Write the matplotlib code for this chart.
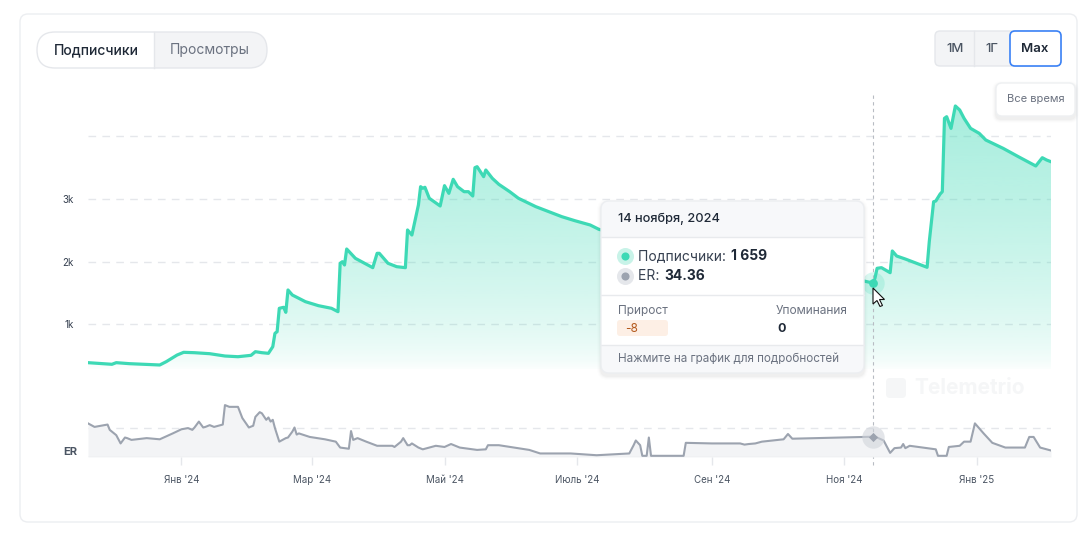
import matplotlib
matplotlib.use('Agg')
import matplotlib.pyplot as plt
import matplotlib.dates as mdates
from matplotlib.colors import to_rgb
from matplotlib.patches import FancyBboxPatch, Rectangle, Polygon
import numpy as np
import pandas as pd

plt.rcParams['font.family'] = ['Inter', 'DejaVu Sans']

W, H = 1088, 537

# subscribers (main chart)
sub_dates = ['2023-11-19', '2023-11-30', '2023-12-02', '2023-12-08', '2023-12-22', '2023-12-25',
             '2023-12-30', '2024-01-02', '2024-01-07', '2024-01-14', '2024-01-21', '2024-01-27',
             '2024-02-02', '2024-02-04', '2024-02-07', '2024-02-10', '2024-02-12', '2024-02-13',
             '2024-02-14', '2024-02-15', '2024-02-17', '2024-02-18', '2024-02-19', '2024-02-21',
             '2024-02-27', '2024-03-04', '2024-03-10', '2024-03-13', '2024-03-14', '2024-03-15',
             '2024-03-16', '2024-03-17', '2024-03-21', '2024-03-29', '2024-03-31', '2024-04-01',
             '2024-04-05', '2024-04-09', '2024-04-13', '2024-04-14', '2024-04-16', '2024-04-19',
             '2024-04-20', '2024-04-21', '2024-04-22', '2024-04-24', '2024-04-29', '2024-05-01',
             '2024-05-03', '2024-05-05', '2024-05-07', '2024-05-10', '2024-05-12', '2024-05-14',
             '2024-05-15', '2024-05-16', '2024-05-19', '2024-05-20', '2024-05-23', '2024-05-26',
             '2024-05-31', '2024-06-04', '2024-06-12', '2024-06-24', '2024-06-30', '2024-07-07',
             '2024-07-11', '2024-08-01', '2024-09-01', '2024-10-01', '2024-11-01', '2024-11-10',
             '2024-11-14', '2024-11-15', '2024-11-16', '2024-11-18', '2024-11-22', '2024-11-23',
             '2024-11-25', '2024-11-29', '2024-12-09', '2024-12-10', '2024-12-11', '2024-12-12',
             '2024-12-13', '2024-12-15', '2024-12-16', '2024-12-17', '2024-12-18', '2024-12-20',
             '2024-12-22', '2024-12-24', '2024-12-26', '2024-12-29', '2025-01-02', '2025-01-05',
             '2025-01-13', '2025-01-20', '2025-01-28', '2025-01-31', '2025-02-02', '2025-02-04']
sub_values = [388, 362, 388, 372, 351, 404,
              510, 553, 547, 531, 494, 483,
              505, 563, 547, 537, 643, 856,
              882, 1255, 1271, 1191, 1547, 1467,
              1361, 1297, 1255, 1201, 1973, 1998,
              1946, 2201, 2052, 1903, 2132, 2132,
              1973, 1919, 1903, 2504, 2424, 2903,
              3195, 3169, 3185, 3010, 2887, 3211,
              3089, 3312, 3195, 3115, 3115, 3046,
              3498, 3514, 3354, 3461, 3328, 3232,
              3115, 3010, 2876, 2716, 2652, 2584,
              2515, 2330, 2100, 1880, 1720, 1690,
              1659, 1733, 1893, 1903, 1823, 2169,
              2089, 2041, 1909, 2317, 2636, 2955,
              2966, 3078, 3115, 4285, 4311, 4125,
              4482, 4418, 4285, 4125, 4045, 3939,
              3806, 3673, 3525, 3657, 3620, 3593]

# ER (bottom strip)
er_dates = ['2023-11-19', '2023-11-22', '2023-11-25', '2023-11-28', '2023-11-29', '2023-12-02',
            '2023-12-04', '2023-12-06', '2023-12-07', '2023-12-09', '2023-12-16', '2023-12-22',
            '2023-12-28', '2024-01-01', '2024-01-04', '2024-01-06', '2024-01-07', '2024-01-09',
            '2024-01-11', '2024-01-12', '2024-01-14', '2024-01-16', '2024-01-20', '2024-01-21',
            '2024-01-23', '2024-01-27', '2024-01-29', '2024-02-01', '2024-02-03', '2024-02-04',
            '2024-02-06', '2024-02-07', '2024-02-09', '2024-02-10', '2024-02-11', '2024-02-12',
            '2024-02-13', '2024-02-15', '2024-02-18', '2024-02-19', '2024-02-21', '2024-02-22',
            '2024-02-23', '2024-02-24', '2024-02-29', '2024-03-07', '2024-03-12', '2024-03-14',
            '2024-03-18', '2024-03-19', '2024-03-20', '2024-03-22', '2024-03-26', '2024-03-31',
            '2024-04-07', '2024-04-08', '2024-04-11', '2024-04-12', '2024-04-14', '2024-04-15',
            '2024-04-16', '2024-04-19', '2024-04-21', '2024-04-27', '2024-05-01', '2024-05-04',
            '2024-05-08', '2024-05-16', '2024-05-20', '2024-05-21', '2024-05-26', '2024-06-02',
            '2024-06-09', '2024-06-14', '2024-06-19', '2024-06-28', '2024-07-10', '2024-07-25',
            '2024-07-27', '2024-07-28', '2024-07-30', '2024-07-31', '2024-08-02', '2024-08-03',
            '2024-08-04', '2024-08-19', '2024-08-20', '2024-09-01', '2024-09-14', '2024-09-16',
            '2024-09-18', '2024-09-21', '2024-09-24', '2024-10-04', '2024-10-06', '2024-10-08',
            '2024-11-14', '2024-11-16', '2024-11-19', '2024-11-22', '2024-11-24', '2024-11-27',
            '2024-11-28', '2024-11-29', '2024-12-01', '2024-12-07', '2024-12-13', '2024-12-14',
            '2024-12-18', '2024-12-19', '2024-12-24', '2024-12-26', '2024-12-29', '2024-12-31',
            '2025-01-04', '2025-01-08', '2025-01-14', '2025-01-23', '2025-01-25', '2025-01-27',
            '2025-01-30', '2025-02-04']
er_values = [57, 51, 53, 55, 46, 37,
             23, 33, 32, 29, 32, 30,
             40, 47, 49, 46, 50, 60,
             50, 51, 54, 51, 55, 88,
             85, 85, 66, 50, 53, 68,
             76, 74, 63, 67, 60, 63,
             49, 26, 32, 33, 43, 50,
             38, 40, 34, 30, 26, 16,
             14, 44, 29, 32, 26, 19,
             19, 17, 26, 32, 20, 20,
             23, 16, 13, 19, 17, 22,
             16, 12, 13, 20, 20, 16,
             12, 6, 6, 6, 3, 6,
             20, 28, 20, 2, 2, 33,
             2, 2, 24, 23, 23, 21,
             22, 23, 26, 30, 39, 31,
             34.36, 33, 28, 7, 15, 16,
             22, 15, 19, 16, 13, 2,
             2, 17, 19, 26, 26, 57,
             40, 24, 16, 16, 34, 34,
             16, 11]

tick_dates = ['2024-01-01', '2024-03-01', '2024-05-01', '2024-07-01',
              '2024-09-01', '2024-11-01', '2025-01-01']
tick_labels = ["Янв '24", "Мар '24", "Май '24", "Июль '24", "Сен '24", "Ноя '24", "Янв '25"]
grid_values = [1000, 2000, 3000, 4000]
grid_labels = ['1k', '2k', '3k', '']

hover_date = '2024-11-14'
hover_title = '14 ноября, 2024'
hover_subs = '1 659'
hover_er = '34.36'
hover_growth = '-8'
hover_mentions = '0'

TEAL = '#3dd9b5'
GRAY_LINE = '#9ca3af'
GRID = '#e5e7eb'


def rect(l, t, r, b):
    return [l / W, 1 - b / H, (r - l) / W, (b - t) / H]


fig = plt.figure(figsize=(W / 100, H / 100), dpi=100)
fig.patch.set_facecolor('white')

ax = fig.add_axes(rect(88, 93, 1051, 370))
ax_er = fig.add_axes(rect(88, 398, 1051, 457), sharex=ax)
for a in (ax, ax_er):
    a.set_facecolor('none')
    for s in a.spines.values():
        s.set_visible(False)

# main chart
d = pd.to_datetime(sub_dates)
v = np.array(sub_values, dtype=float)
ymin, ymax = 271, 4689
poly = ax.fill_between(d, v, ymin, color='none', lw=0)
grad = np.zeros((256, 1, 4))
grad[..., :3] = to_rgb(TEAL)
grad[..., 3] = (0.45 * np.linspace(0, 1, 256) ** 0.6)[:, None]
x0, x1 = mdates.date2num(d[0]), mdates.date2num(d[-1])
im = ax.imshow(grad, extent=[x0, x1, ymin, v.max()], origin='lower', aspect='auto', zorder=1)
im.set_clip_path(poly.get_paths()[0], transform=ax.transData)
ax.plot(d, v, color=TEAL, lw=2.3, zorder=3, solid_joinstyle='round')
ax.set_xlim(d[0], d[-1])
ax.set_ylim(ymin, ymax)
ax.set_yticks(grid_values)
ax.set_yticklabels(grid_labels)
ax.grid(axis='y', color=GRID, lw=1, linestyle=(0, (5.5, 4.5)))
ax.set_axisbelow(True)
ax.tick_params(axis='y', length=0, pad=10, labelsize=7, labelcolor='#374151')
ax.tick_params(axis='x', bottom=False, labelbottom=False)

hx = pd.Timestamp(hover_date)
ax.axvline(hx, ymin=-95 / 277, ymax=1, clip_on=False, color='#b8bcc3', lw=0.8,
           linestyle=(0, (3, 3)), zorder=4)
hv = v[list(d).index(hx)]
ax.scatter([hx], [hv], s=260, color=TEAL, alpha=0.2, lw=0, zorder=5)
ax.scatter([hx], [hv], s=40, color=TEAL, lw=0, zorder=6)

# ER strip
de = pd.to_datetime(er_dates)
ve = np.array(er_values, dtype=float)
ax_er.fill_between(de, ve, 0, color='#f3f4f6', lw=0, zorder=1)
ax_er.plot(de, ve, color=GRAY_LINE, lw=1.5, zorder=3)
ax_er.axhline(50, color=GRID, lw=1, linestyle=(0, (5.5, 4.5)), zorder=0)
ax_er.axhline(0, color=GRID, lw=1, zorder=2)
ax_er.set_ylim(0, 100)
ax_er.set_yticks([])
ax_er.set_xticks(pd.to_datetime(tick_dates))
ax_er.set_xticklabels(tick_labels)
ax_er.tick_params(axis='x', length=6, width=1, color=GRID, labelsize=7,
                  labelcolor='#4b5563', pad=7)
he = ve[list(de).index(hx)]
ax_er.scatter([hx], [he], s=260, color='#d1d5db', alpha=0.6, lw=0, zorder=5)
ax_er.scatter([hx], [he], s=22, marker='D', color=GRAY_LINE, lw=0, zorder=6)
ax_er.set_xlim(d[0], d[-1])

# overlay in pixel coordinates
ov = fig.add_axes([0, 0, 1, 1], zorder=10)
ov.set_xlim(0, W)
ov.set_ylim(H, 0)
ov.axis('off')
ov.patch.set_alpha(0)


def box(x, y, w, h, r, fc, ec='none', lw=1.0, z=1, alpha=1.0):
    p = FancyBboxPatch((x, y), w, h, boxstyle=f'round,pad=0,rounding_size={r}',
                       fc=fc, ec=ec, lw=lw, zorder=z, alpha=alpha)
    ov.add_patch(p)
    return p


def shadow(x, y, w, h, r, z):
    for i, a in enumerate([0.025, 0.018, 0.012, 0.008]):
        box(x - i - 1, y - i + 1, w + 2 * i + 2, h + 2 * i + 3, r + i, '#000000', z=z, alpha=a)


# card
box(20, 14, 1057, 508, 8, 'none', ec='#eceef1', lw=1, z=0)

# left toggle
pill = box(37, 32, 230, 36, 18, '#f3f4f6', z=1)
left = Rectangle((37, 32), 117, 36, fc='white', ec='none', zorder=2)
ov.add_patch(left)
left.set_clip_path(pill)
ov.plot([154, 154], [32, 68], color=GRID, lw=1, zorder=3)
box(37, 32, 230, 36, 18, 'none', ec=GRID, lw=1, z=4)
ov.text(96, 50, 'Подписчики', fontsize=10, color='#1f2937', ha='center', va='center',
        fontweight='medium', zorder=5)
ov.text(210, 50, 'Просмотры', fontsize=10, color='#6b7280', ha='center', va='center', zorder=5)

# right range buttons
box(935, 31, 126, 35, 5, '#f3f4f6', ec=GRID, lw=1, z=1)
ov.plot([974, 974], [31, 66], color=GRID, lw=1, zorder=2)
box(1010, 31, 51, 35, 5, 'white', ec='#3b82f6', lw=1.2, z=3)
ov.text(955, 49, '1M', fontsize=9.5, color='#4b5563', ha='center', va='center',
        fontweight='medium', zorder=5)
ov.text(992, 49, '1Г', fontsize=9.5, color='#4b5563', ha='center', va='center',
        fontweight='medium', zorder=5)
ov.text(1035, 49, 'Max', fontsize=9.5, color='#1f2937', ha='center', va='center',
        fontweight='semibold', zorder=5)

# "Все время" hint
shadow(996, 83, 79, 33, 6, 1)
box(996, 83, 79, 33, 6, 'white', ec='#eef0f2', lw=1, z=2)
ov.text(1035.5, 99.5, 'Все время', fontsize=8, color='#6b7280', ha='center', va='center', zorder=5)

# ER label
ov.text(70, 452, 'ER', fontsize=8, color='#4b5563', ha='center', va='center',
        fontweight='bold', zorder=5)

# watermark
box(886, 378, 20, 20, 4, '#f5f6f7', z=1)
ov.text(914, 388, 'Telemetrio', fontsize=15, color='#f5f6f7', ha='left', va='center',
        fontweight='bold', zorder=1)

# tooltip
tx, ty, tw, th = 601, 201, 263, 172
shadow(tx, ty, tw, th, 8, 5)
base = box(tx, ty, tw, th, 8, '#f7f8fa', z=6)
mid = Rectangle((tx, 237), tw, 108, fc='white', ec='none', zorder=7)
ov.add_patch(mid)
for yy in (237, 295, 345):
    ov.plot([tx, tx + tw], [yy, yy], color='#e8eaed', lw=1, zorder=8)
box(tx, ty, tw, th, 8, 'none', ec='#eceef1', lw=1, z=9)

ov.text(618, 218.5, hover_title, fontsize=9.2, color='#1f2937', ha='left', va='center',
        fontweight='medium', zorder=10)

ov.scatter([625], [256], s=150, color='#c8f3e8', lw=0, zorder=10)
ov.scatter([625], [256], s=34, color=TEAL, lw=0, zorder=11)
ov.scatter([625], [276], s=150, color='#e5e7eb', lw=0, zorder=10)
ov.scatter([625], [276], s=34, color=GRAY_LINE, lw=0, zorder=11)

renderer = fig.canvas.get_renderer()


def label_value(x, y, label, value):
    t = ov.text(x, y, label, fontsize=10, color='#374151', ha='left', va='center', zorder=10)
    end = t.get_window_extent(renderer).x1
    ov.text(end + 1, y, value, fontsize=10, color='#1f2937', ha='left', va='center',
            fontweight='bold', zorder=10)


label_value(638, 256.5, 'Подписчики: ', hover_subs)
label_value(638, 276.5, 'ER: ', hover_er)

ov.text(618, 311, 'Прирост', fontsize=8.6, color='#6b7280', ha='left', va='center', zorder=10)
box(617, 320, 51, 16, 3, '#fdefe5', z=10)
ov.text(625, 328.5, hover_growth, fontsize=8.6, color='#b45a1e', ha='left', va='center', zorder=11)
ov.text(776, 311, 'Упоминания', fontsize=8.6, color='#6b7280', ha='left', va='center', zorder=10)
ov.text(777, 328.5, hover_mentions, fontsize=9, color='#1f2937', ha='left', va='center',
        fontweight='bold', zorder=10)
ov.text(618, 359, 'Нажмите на график для подробностей', fontsize=8.4, color='#6b7280',
        ha='left', va='center', zorder=10)

# mouse cursor
cur = np.array([(0, 0), (0, 16), (4, 12.5), (7, 18.5), (9.5, 17.5), (6.5, 11.5), (11.5, 11.5)])
ov.add_patch(Polygon(cur + [873, 288], closed=True, fc='white', ec='#111111', lw=0.8, zorder=12))

fig.savefig('out.png', dpi=100, facecolor='white')
